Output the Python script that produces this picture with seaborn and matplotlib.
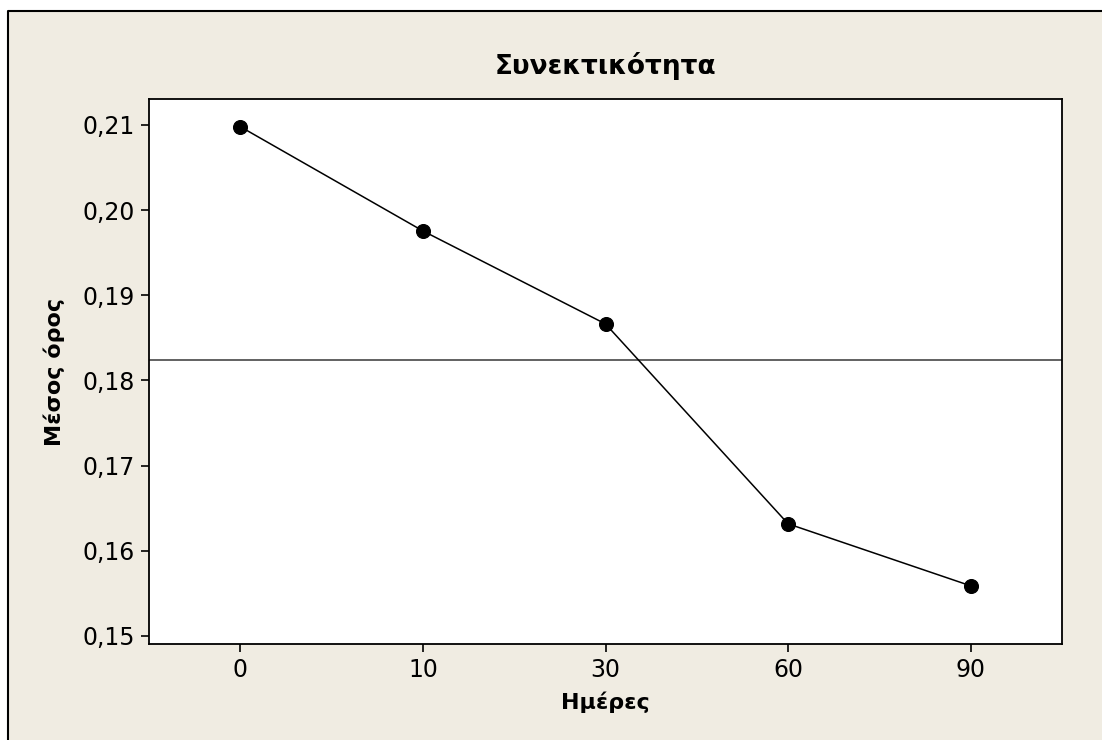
import matplotlib
matplotlib.use("Agg")
import matplotlib.pyplot as plt
import seaborn as sns
from matplotlib.patches import Rectangle
from matplotlib.lines import Line2D
from matplotlib.ticker import FuncFormatter

# Main effects plot data (Minitab style)
days = ["0", "10", "30", "60", "90"]
mean_values = [0.2098, 0.19756, 0.18664, 0.16317, 0.15589]
grand_mean = 0.1824
y_ticks = [0.15, 0.16, 0.17, 0.18, 0.19, 0.20, 0.21]

title = "Συνεκτικότητα"
x_label = "Ημέρες"
y_label = "Μέσος όρος"

BEIGE = "#F0ECE2"

sns.set_style("white")
plt.rcParams["font.family"] = ["DejaVu Sans"]
plt.rcParams["text.color"] = "black"
plt.rcParams["axes.labelcolor"] = "black"

fig = plt.figure(figsize=(11.02, 7.40), dpi=100)
fig.patch.set_facecolor("white")

# beige panel with black border on left/top only
x0 = 8 / 1102
y1 = 1 - 11 / 740
fig.patches.append(Rectangle((x0, 0), 1 - x0, y1, transform=fig.transFigure,
                             facecolor=BEIGE, edgecolor="none", zorder=-2))
fig.lines.append(Line2D([x0, x0, 1.01], [-0.01, y1, y1], transform=fig.transFigure,
                        color="black", linewidth=1.5, zorder=-1))

ax = fig.add_axes([149 / 1102, 1 - 644 / 740, (1062 - 149) / 1102, (644 - 99) / 740])
ax.set_facecolor("white")

ax.axhline(grand_mean, color="#555555", linewidth=1.3, zorder=1)

sns.pointplot(x=days, y=mean_values, order=days, color="black", errorbar=None,
              markers="o", markersize=10, linewidth=1.1, ax=ax, zorder=3)

ax.set_xlim(-0.5, len(days) - 0.5)
ax.set_ylim(0.14906, 0.21305)
ax.set_yticks(y_ticks)
ax.yaxis.set_major_formatter(FuncFormatter(lambda v, p: f"{v:.2f}".replace(".", ",")))

for side in ["left", "right", "top", "bottom"]:
    ax.spines[side].set_visible(True)
    ax.spines[side].set_color("black")
    ax.spines[side].set_linewidth(1.3)

ax.tick_params(axis="both", direction="out", length=6, width=1.2,
               color="black", labelsize=17, labelcolor="black", pad=4,
               left=True, bottom=True)

ax.set_xlabel(x_label, fontsize=16, fontweight="bold", labelpad=7, color="black")
ax.set_ylabel(y_label, fontsize=16, fontweight="bold", labelpad=13, color="black")
ax.set_title(title, fontsize=19, fontweight="bold", pad=18, color="black")

fig.savefig("out.png", dpi=100, facecolor=fig.get_facecolor())
